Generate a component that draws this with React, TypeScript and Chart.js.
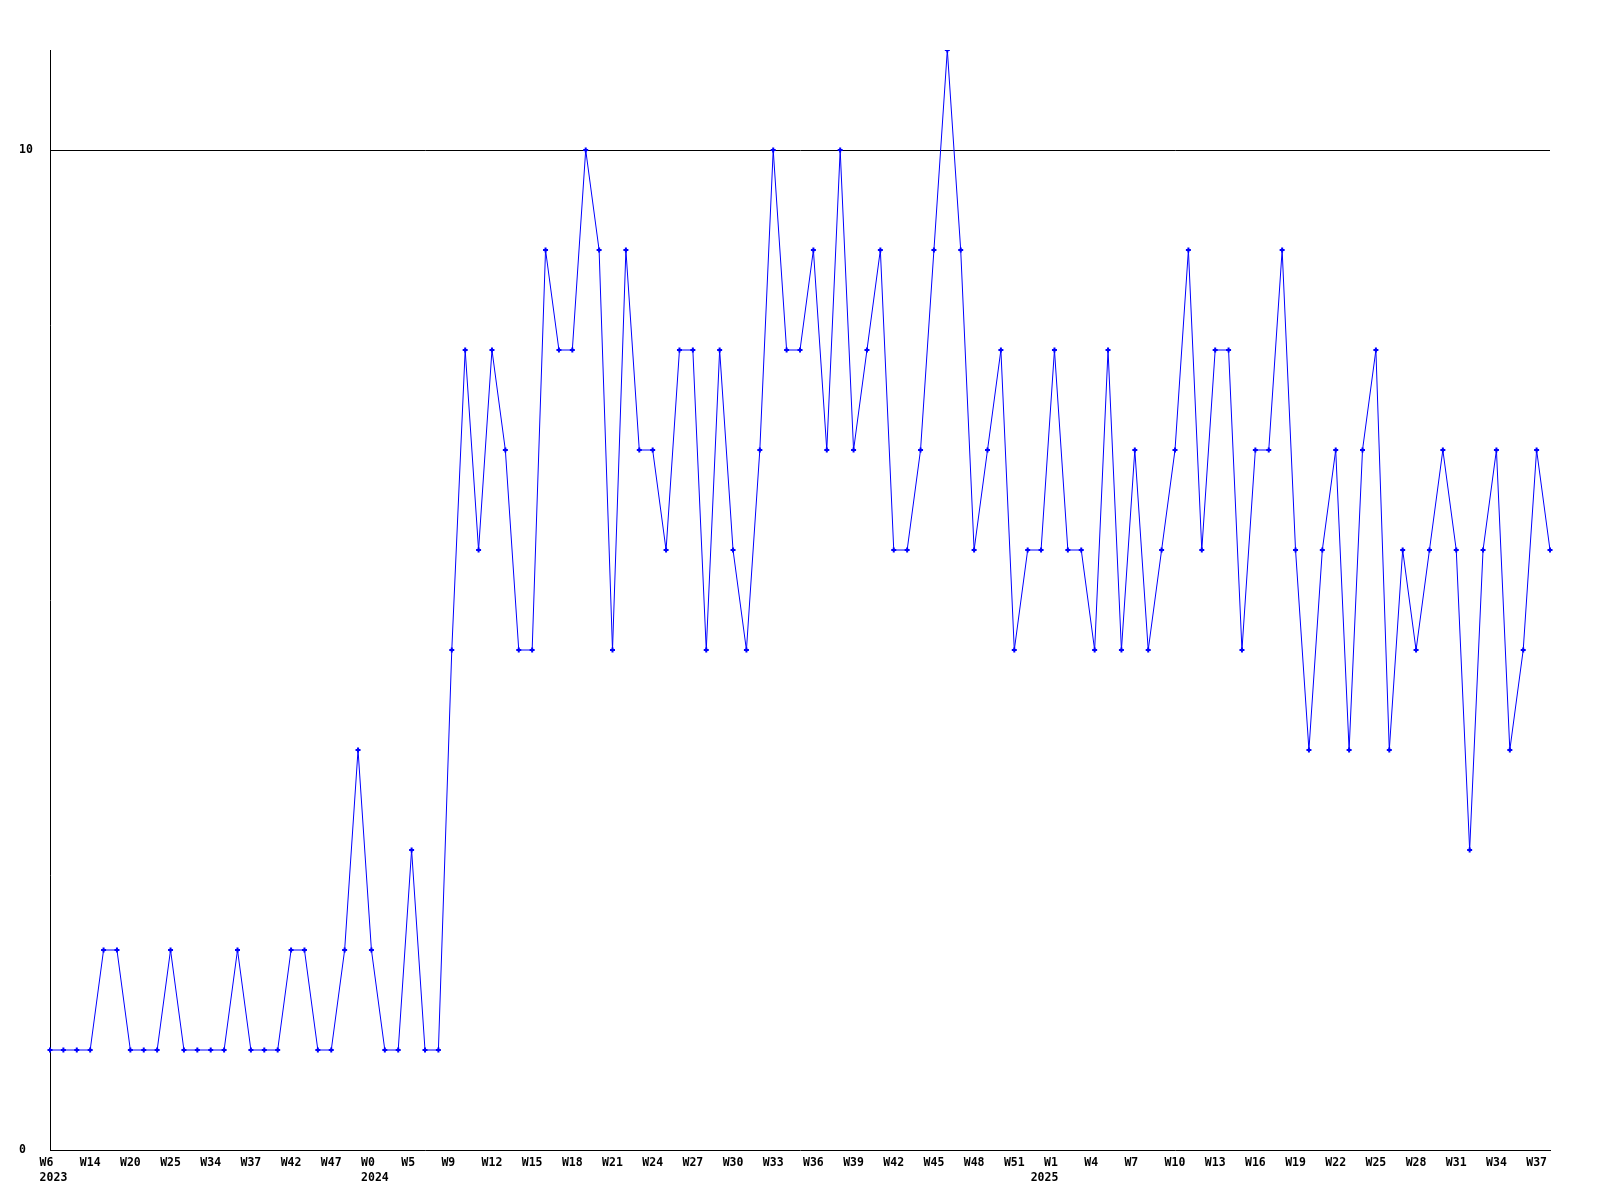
import React, { useEffect, useRef } from 'react';
import { Chart, registerables } from 'chart.js';

Chart.register(...registerables);

// Weekly values, one per point (113 points)
const values = [
  1, 1, 1, 1, 2, 2, 1, 1, 1, 2,
  1, 1, 1, 1, 2, 1, 1, 1, 2, 2,
  1, 1, 2, 4, 2, 1, 1, 3, 1, 1,
  5, 8, 6, 8, 7, 5, 5, 9, 8, 8,
  10, 9, 5, 9, 7, 7, 6, 8, 8, 5,
  8, 6, 5, 7, 10, 8, 8, 9, 7, 10,
  7, 8, 9, 6, 6, 7, 9, 11, 9, 6,
  7, 8, 5, 6, 6, 8, 6, 6, 5, 8,
  5, 7, 5, 6, 7, 9, 6, 8, 8, 5,
  7, 7, 9, 6, 4, 6, 7, 4, 7, 8,
  4, 6, 5, 6, 7, 6, 3, 6, 7, 4,
  5, 7, 6,
];

// Week tick labels, shown on every third point
const weekTickLabels = [
  'W6', 'W14', 'W20', 'W25', 'W34', 'W37', 'W42', 'W47', 'W0', 'W5',
  'W9', 'W12', 'W15', 'W18', 'W21', 'W24', 'W27', 'W30', 'W33', 'W36',
  'W39', 'W42', 'W45', 'W48', 'W51', 'W1', 'W4', 'W7', 'W10', 'W13',
  'W16', 'W19', 'W22', 'W25', 'W28', 'W31', 'W34', 'W37',
];
const weekTickStep = 3;

// Year labels, placed at the first point of each year
const yearTickIndex = [0, 24, 74];
const yearTickText = ['2023', '2024', '2025'];

// Y axis
const yTicks = [0, 10];
const yMin = 0;
const yMax = 11;

const categories = values.map((_, i) => String(i));

const xTickFont = {
  family: "'DejaVu Sans Mono', monospace",
  size: 11.5,
  weight: 'bold' as const,
  lineHeight: '15.5px',
};

const yTickFont = {
  family: "'DejaVu Sans Mono', monospace",
  size: 11.5,
  weight: 'bold' as const,
};

export default function App() {
  const canvasRef = useRef<HTMLCanvasElement | null>(null);

  useEffect(() => {
    document.body.style.margin = '0';
    const canvas = canvasRef.current;
    if (!canvas) return;

    const chart = new Chart(canvas, {
      type: 'line',
      data: {
        labels: categories,
        datasets: [
          {
            data: values,
            borderColor: '#0000ff',
            borderWidth: 1,
            tension: 0,
            fill: false,
            pointStyle: 'cross',
            pointRadius: 2.5,
            pointBorderWidth: 2,
            pointBorderColor: '#0000ff',
            pointBackgroundColor: '#0000ff',
          },
        ],
      },
      options: {
        animation: false,
        responsive: false,
        devicePixelRatio: 1,
        layout: { padding: { left: 19, right: 50, top: 50, bottom: 0 } },
        plugins: {
          legend: { display: false },
          tooltip: { enabled: false },
        },
        scales: {
          x: {
            type: 'category',
            offset: false,
            grid: { display: false, drawTicks: false },
            border: { display: true, color: '#000000', width: 1 },
            ticks: {
              autoSkip: false,
              maxRotation: 0,
              minRotation: 0,
              padding: 5,
              color: '#000000',
              font: xTickFont,
              callback: (_value: any, index: number) => {
                const w =
                  index % weekTickStep === 0 ? weekTickLabels[index / weekTickStep] || '' : '';
                const yi = yearTickIndex.indexOf(index);
                const first = w ? w.padEnd(3, ' ') : '';
                if (yi >= 0) return [first, ' ' + yearTickText[yi]];
                return first;
              },
            },
            afterFit: (s: any) => {
              s.height = 50;
            },
          },
          y: {
            min: yMin,
            max: yMax,
            grid: {
              drawTicks: false,
              lineWidth: 1,
              color: (ctx: any) =>
                ctx.tick && ctx.tick.value === 10 ? '#000000' : 'rgba(0,0,0,0)',
            },
            border: { display: true, color: '#000000', width: 1 },
            ticks: {
              crossAlign: 'far',
              padding: 0,
              color: '#000000',
              font: yTickFont,
              callback: (v: any) => String(v),
            },
            afterBuildTicks: (s: any) => {
              s.ticks = yTicks.map((v) => ({ value: v }));
            },
            afterFit: (s: any) => {
              s.width = 31;
            },
          },
        },
      },
    });

    return () => {
      chart.destroy();
    };
  }, []);

  return (
    <div style={{ width: 1600, height: 1200, background: '#ffffff' }}>
      <canvas ref={canvasRef} width={1600} height={1200} style={{ display: 'block' }} />
    </div>
  );
}
